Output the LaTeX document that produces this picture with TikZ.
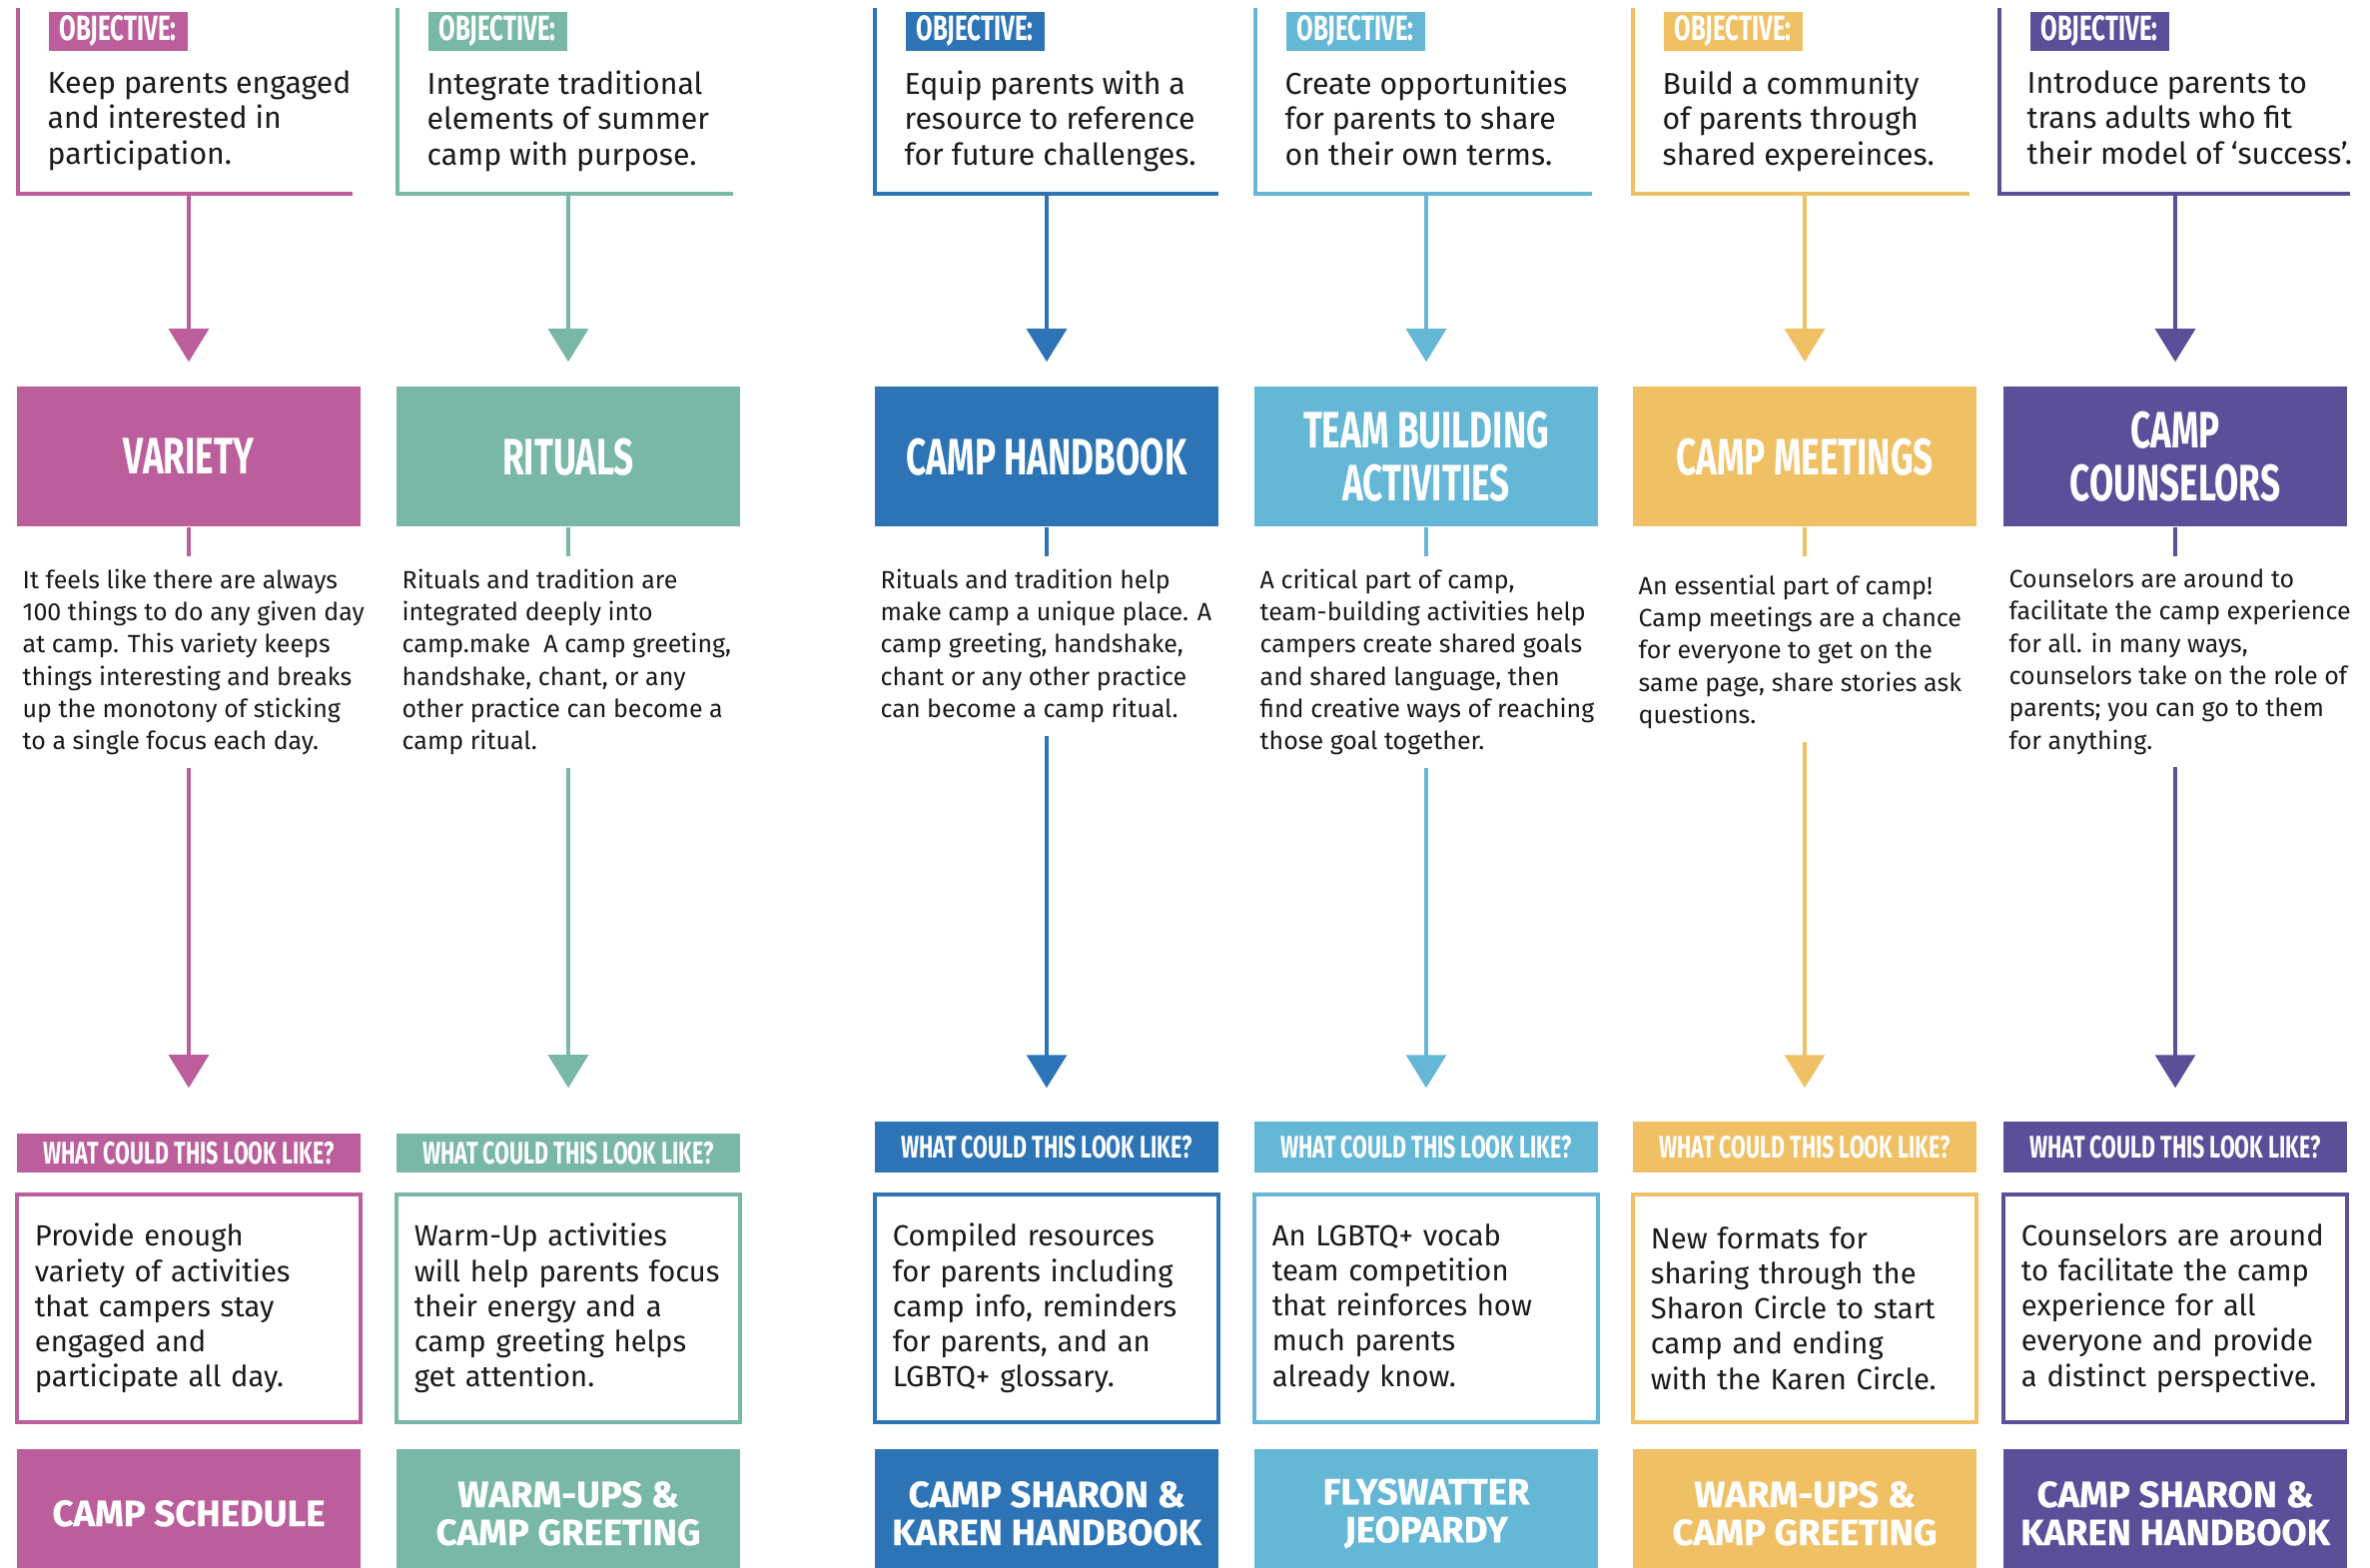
\documentclass[tikz,border=0pt]{standalone}
\usepackage{fontspec}
\setmainfont{Fira Sans}
\newfontfamily\headfont[FakeStretch=0.684]{Fira Sans}
\newfontfamily\endfont[FakeBold=0.4]{Fira Sans}
\usetikzlibrary{arrows.meta}
\usetikzlibrary{positioning}
\hyphenpenalty=10000
\definecolor{pnk}{HTML}{BC5E9B}
\definecolor{tel}{HTML}{79B8A6}
\definecolor{blu}{HTML}{2C74B5}
\definecolor{sky}{HTML}{65B7D6}
\definecolor{ylw}{HTML}{F0C064}
\definecolor{prp}{HTML}{5B4F9A}
\definecolor{ink}{HTML}{1A1A1A}
\tikzset{head node/.style={rectangle,minimum width=3.44cm,minimum height=1.40cm,inner sep=0pt,text depth=-2.5pt,text=white,align=center,font=\headfont\bfseries\fontsize{14.6}{15.1}\selectfont}}
\tikzset{tag node/.style={rectangle,anchor=north west,minimum width=1.39cm,minimum height=0.39cm,inner sep=0pt,text=white,font=\headfont\bfseries\fontsize{10}{10}\selectfont}}
\tikzset{obj node/.style={anchor=north west,inner sep=0pt,align=left,text=ink,font=\fontsize{8.6}{10.1}\selectfont}}
\tikzset{desc node/.style={anchor=north west,inner xsep=0pt,inner ysep=0.12cm,align=left,text=ink,font=\fontsize{7.1}{9.2}\selectfont}}
\tikzset{look node/.style={rectangle,minimum width=3.44cm,inner sep=0pt,text=white,font=\headfont\bfseries\fontsize{8.9}{8.9}\selectfont}}
\tikzset{idea node/.style={rectangle,draw,line width=1.2pt,fill=white,text width=3.08cm,inner xsep=0.18cm,minimum height=2.28cm,align=left,text=ink,font=\fontsize{8.3}{10}\selectfont}}
\tikzset{end node/.style={rectangle,minimum width=3.44cm,minimum height=1.29cm,inner sep=0pt,text=white,align=center,font=\endfont\bfseries\fontsize{10.4}{10.8}\selectfont}}
\tikzset{frame line/.style={line width=1pt}}
\tikzset{arrow line/.style={line width=0.9pt,-{Triangle[width=0.4cm,length=0.33cm]}}}

\begin{document}
\begin{tikzpicture}[x=0.01cm,y=-0.01cm]
	\clip (0,0) rectangle (2373,1570);
	\fill[white] (0,0) rectangle (2373,1570);

	% objectives
	\draw[frame line,pnk] (18,8) |- (353,194);
	\draw[frame line,tel] (398,8) |- (734,194);
	\draw[frame line,blu] (876,8) |- (1220,194);
	\draw[frame line,sky] (1257,8) |- (1594,194);
	\draw[frame line,ylw] (1635,8) |- (1972,194);
	\draw[frame line,prp] (2002,8) |- (2353,194);
	\node[tag node,fill=pnk] (t_{1}) at (48,11) {OBJECTIVE:};
	\node[tag node,fill=tel] (t_{2}) at (428,11) {OBJECTIVE:};
	\node[tag node,fill=blu] (t_{3}) at (906,11) {OBJECTIVE:};
	\node[tag node,fill=sky] (t_{4}) at (1287,11) {OBJECTIVE:};
	\node[tag node,fill=ylw] (t_{5}) at (1665,11) {OBJECTIVE:};
	\node[tag node,fill=prp] (t_{6}) at (2032,11) {OBJECTIVE:};
	\node[obj node] (o_{1}) at (47,70) {Keep parents engaged\\and interested in\\participation.};
	\node[obj node] (o_{2}) at (427,70) {Integrate traditional\\elements of summer\\camp with purpose.};
	\node[obj node] (o_{3}) at (905,70) {Equip parents with a\\resource to reference\\for future challenges.};
	\node[obj node] (o_{4}) at (1286,70) {Create opportunities\\for parents to share\\on their own terms.};
	\node[obj node] (o_{5}) at (1664,70) {Build a community\\of parents through\\shared expereinces.};
	\node[obj node] (o_{6}) at (2029,70) {Introduce parents to\\trans adults who fit\\their model of ‘success’.};
	\coordinate (f_{1}) at (189,194);
	\coordinate (f_{2}) at (569,194);
	\coordinate (f_{3}) at (1048,194);
	\coordinate (f_{4}) at (1428,194);
	\coordinate (f_{5}) at (1807,194);
	\coordinate (f_{6}) at (2178,194);

	% headings
	\node[head node,fill=pnk] (h_{1}) at (189,457) {VARIETY};
	\node[head node,fill=tel] (h_{2}) at (569,457) {RITUALS};
	\node[head node,fill=blu] (h_{3}) at (1048,457) {CAMP HANDBOOK};
	\node[head node,fill=sky] (h_{4}) at (1428,457) {TEAM BUILDING\\ACTIVITIES};
	\node[head node,fill=ylw] (h_{5}) at (1807,457) {CAMP MEETINGS};
	\node[head node,fill=prp] (h_{6}) at (2178,457) {CAMP\\COUNSELORS};

	% descriptions
	\node[desc node] (d_{1}) at (22,557) {It feels like there are always\\100 things to do any given day\\at camp. This variety keeps\\things interesting and breaks\\up the monotony of sticking\\to a single focus each day.};
	\node[desc node] (d_{2}) at (402,557) {Rituals and tradition are\\integrated deeply into\\camp.make\ \ A camp greeting,\\handshake, chant, or any\\other practice can become a\\camp ritual.};
	\node[desc node] (d_{3}) at (881,557) {Rituals and tradition help\\make camp a unique place. A\\camp greeting, handshake,\\chant or any other practice\\can become a camp ritual.};
	\node[desc node] (d_{4}) at (1261,557) {A critical part of camp,\\team-building activities help\\campers create shared goals\\and shared language, then\\find creative ways of reaching\\those goal together.};
	\node[desc node] (d_{5}) at (1640,563) {An essential part of camp!\\Camp meetings are a chance\\for everyone to get on the\\same page, share stories ask\\questions.};
	\node[desc node] (d_{6}) at (2011,557) {Counselors are around to\\facilitate the camp experience\\for all. in many ways,\\counselors take on the role of\\parents; you can go to them\\for anything.};

	% what could this look like
	\node[look node,fill=pnk,minimum height=0.39cm] (w_{1}) at (189,1154.5) {WHAT COULD THIS LOOK LIKE?};
	\node[look node,fill=tel,minimum height=0.39cm] (w_{2}) at (569,1154.5) {WHAT COULD THIS LOOK LIKE?};
	\node[look node,fill=blu,minimum height=0.51cm] (w_{3}) at (1048,1148.5) {WHAT COULD THIS LOOK LIKE?};
	\node[look node,fill=sky,minimum height=0.51cm] (w_{4}) at (1428,1148.5) {WHAT COULD THIS LOOK LIKE?};
	\node[look node,fill=ylw,minimum height=0.51cm] (w_{5}) at (1807,1148.5) {WHAT COULD THIS LOOK LIKE?};
	\node[look node,fill=prp,minimum height=0.51cm] (w_{6}) at (2178,1148.5) {WHAT COULD THIS LOOK LIKE?};
	\node[idea node,draw=pnk] (e_{1}) [below = 0.19cm of w_{1}] {Provide enough\\variety of activities\\that campers stay\\engaged and\\participate all day.};
	\node[idea node,draw=tel] (e_{2}) [below = 0.19cm of w_{2}] {Warm-Up activities\\will help parents focus\\their energy and a\\camp greeting helps\\get attention.};
	\node[idea node,draw=blu] (e_{3}) [below = 0.19cm of w_{3}] {Compiled resources\\for parents including\\camp info, reminders\\for parents, and an\\LGBTQ+ glossary.};
	\node[idea node,draw=sky] (e_{4}) [below = 0.19cm of w_{4}] {An LGBTQ+ vocab\\team competition\\that reinforces how\\much parents\\already know.};
	\node[idea node,draw=ylw] (e_{5}) [below = 0.19cm of w_{5}] {New formats for\\sharing through the\\Sharon Circle to start\\camp and ending\\with the Karen Circle.};
	\node[idea node,draw=prp] (e_{6}) [below = 0.19cm of w_{6}] {Counselors are around\\to facilitate the camp\\experience for all\\everyone and provide\\a distinct perspective.};
	\node[end node,fill=pnk] (b_{1}) [below = 0.24cm of e_{1}] {CAMP SCHEDULE};
	\node[end node,fill=tel] (b_{2}) [below = 0.24cm of e_{2}] {WARM-UPS \&\\CAMP GREETING};
	\node[end node,fill=blu] (b_{3}) [below = 0.24cm of e_{3}] {CAMP SHARON \&\\KAREN HANDBOOK};
	\node[end node,fill=sky] (b_{4}) [below = 0.24cm of e_{4}] {FLYSWATTER\\JEOPARDY};
	\node[end node,fill=ylw] (b_{5}) [below = 0.24cm of e_{5}] {WARM-UPS \&\\CAMP GREETING};
	\node[end node,fill=prp] (b_{6}) [below = 0.24cm of e_{6}] {CAMP SHARON \&\\KAREN HANDBOOK};

	% connectors
	\path [arrow line,pnk]
	(f_{1}) edge[shorten >=0.24cm] (h_{1})
	(h_{1}.south) edge[-] (h_{1}.south |- d_{1}.north)
	(h_{1}.south |- d_{1}.south) edge[shorten >=0.45cm] (w_{1});
	\path [arrow line,tel]
	(f_{2}) edge[shorten >=0.24cm] (h_{2})
	(h_{2}.south) edge[-] (h_{2}.south |- d_{2}.north)
	(h_{2}.south |- d_{2}.south) edge[shorten >=0.45cm] (w_{2});
	\path [arrow line,blu]
	(f_{3}) edge[shorten >=0.24cm] (h_{3})
	(h_{3}.south) edge[-] (h_{3}.south |- d_{3}.north)
	(h_{3}.south |- d_{3}.south) edge[shorten >=0.33cm] (w_{3});
	\path [arrow line,sky]
	(f_{4}) edge[shorten >=0.24cm] (h_{4})
	(h_{4}.south) edge[-] (h_{4}.south |- d_{4}.north)
	(h_{4}.south |- d_{4}.south) edge[shorten >=0.33cm] (w_{4});
	\path [arrow line,ylw]
	(f_{5}) edge[shorten >=0.24cm] (h_{5})
	(h_{5}.south) edge[-] (h_{5}.south |- 0,557)
	(h_{5}.south |- d_{5}.south) edge[shorten >=0.33cm] (w_{5});
	\path [arrow line,prp]
	(f_{6}) edge[shorten >=0.24cm] (h_{6})
	(h_{6}.south) edge[-] (h_{6}.south |- d_{6}.north)
	(h_{6}.south |- d_{6}.south) edge[shorten >=0.33cm] (w_{6});
\end{tikzpicture}
\end{document}
